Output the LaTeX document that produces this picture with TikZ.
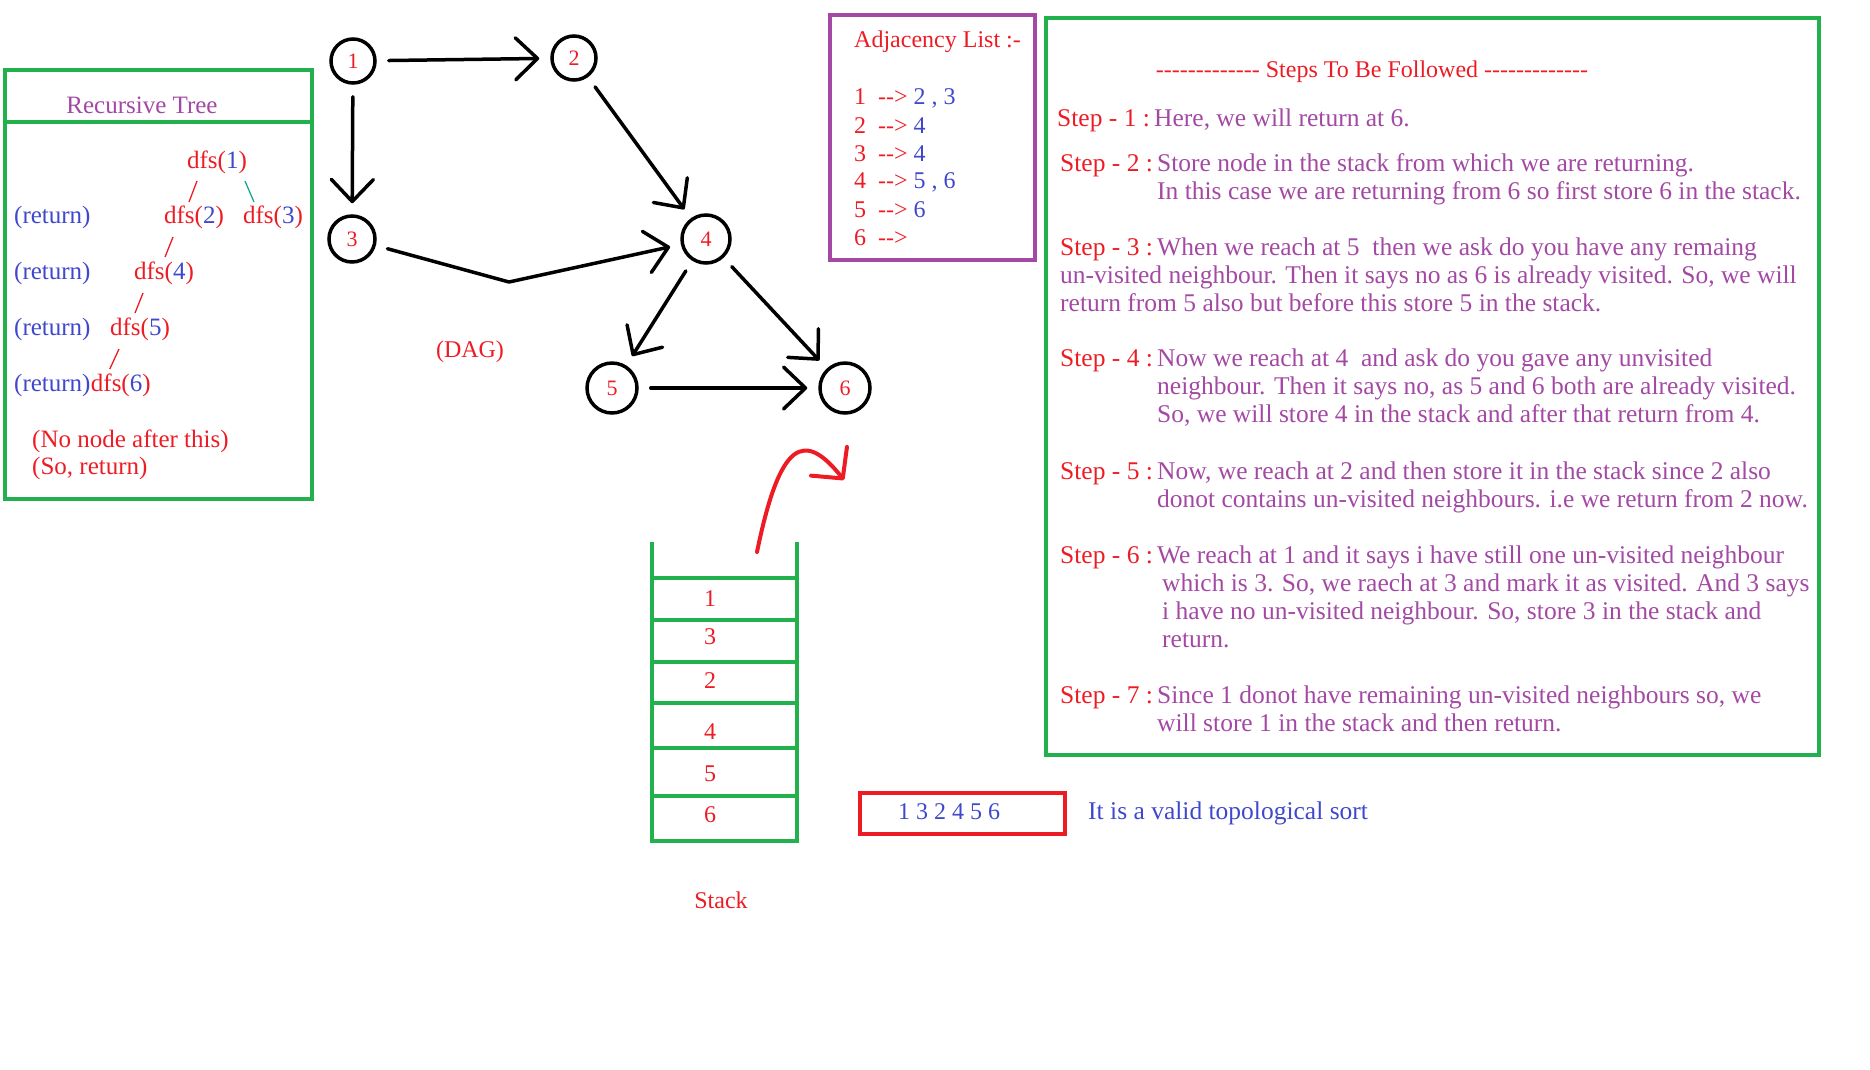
\documentclass[tikz,border=0pt]{standalone}
\usepackage{fontspec}
\setmainfont{Liberation Serif}[Ligatures=TeXOff]
\usetikzlibrary{arrows.meta,positioning}
\definecolor{rot}{HTML}{ED1C24}
\definecolor{blau}{HTML}{3F48CC}
\definecolor{lila}{HTML}{A349A4}
\definecolor{gruen}{HTML}{22B14C}
\definecolor{tuerkis}{HTML}{1BA68C}
\newcommand\dfs[1]{dfs(\textcolor{blau}{#1})}
\newcommand\stp[1]{\makebox[97pt][l]{\textcolor{rot}{Step - #1 :}}}
\tikzset{
  knoten/.style={circle,draw=black,line width=3.5pt,inner sep=0pt,text=rot,font=\fontsize{22}{26}\selectfont},
  kante/.style={-{Straight Barb[length=22pt,width=42pt,round]},line width=3.5pt,line cap=round,line join=round,shorten <=12pt,shorten >=11pt},
  rahmen/.style={draw=gruen,line width=4pt},
  stapel/.style={gruen,line width=4pt},
  strich/.style={line width=1.3pt},
  txt/.style={inner sep=0pt,font=\fontsize{24}{28}\selectfont},
  baum/.style={inner sep=0pt,font=\fontsize{25}{27}\selectfont},
  schritt/.style={inner sep=0pt,text=lila,font=\fontsize{25.5}{28}\selectfont},
  pfeilrot/.style={-{Straight Barb[length=22pt,width=46pt,round]},rot,line width=4pt,line cap=round},
}
\begin{document}
\begin{tikzpicture}[x=1pt,y=-1pt]
  \useasboundingbox (0,0) rectangle (1870,1069);
  \draw[rahmen] (5,70) rectangle (312,499);
  \draw[rahmen] (5,122) -- (312,122);
  \node[baum,text=lila] (titel) at (142,105) {Recursive Tree};
  \node[baum,text=rot] (d1) at (217,162) {\dfs{1}};
  \node[baum,text=rot] (d2) at (194,217) {\dfs{2}};
  \node[baum,text=rot] (d3) at (273,217) {\dfs{3}};
  \node[baum,text=rot] (d4) at (164,273) {\dfs{4}};
  \node[baum,text=rot] (d5) at (140,329) {\dfs{5}};
  \node[baum,text=blau,anchor=west] (r1) at (14,217) {(return)};
  \node[baum,text=blau,anchor=west] (r2) at (14,273) {(return)};
  \node[baum,text=blau,anchor=west] (r3) at (14,329) {(return)};
  \node[baum,text=blau,anchor=west] (r4) at (14,385) {(return)};
  \node[baum,text=rot,right=0pt of r4] (d6) {\dfs{6}};
  \draw[strich,rot] ([shift={(-20,19)}]d1.center) -- ([shift={(-5,-15)}]d2.center);
  \draw[strich,tuerkis] ([shift={(28,19)}]d1.center) -- ([shift={(-19,-15)}]d3.center);
  \draw[strich,rot] ([shift={(-21,20)}]d2.center) -- ([shift={(1,-16)}]d4.center);
  \draw[strich,rot] ([shift={(-21,20)}]d4.center) -- ([shift={(-5,-16)}]d5.center);
  \draw[strich,rot] ([shift={(-21,20)}]d5.center) -- ([shift={(-11,-16)}]d6.center);
  \node[baum,text=rot,anchor=west,align=left] (hinweis) at (32,455) {(No node after this)\\(So, return)};
  \node[knoten,minimum size=44pt] (n1) at (353,61) {1};
  \node[knoten,minimum size=44pt] (n2) at (574,58) {2};
  \node[knoten,minimum size=46pt] (n3) at (352,239) {3};
  \node[knoten,minimum size=48pt] (n4) at (706,239) {4};
  \node[knoten,minimum size=50pt] (n5) at (612,388) {5};
  \node[knoten,minimum size=50pt] (n6) at (845,388) {6};
  \coordinate (knick) at (509,282);
  \draw[kante] (n1) -- (n2);
  \draw[kante] (n1) -- (n3);
  \draw[kante] (n2) -- (n4);
  \draw[kante] (n3) -- (knick) -- (n4);
  \draw[kante] (n4) -- (n5);
  \draw[kante] (n4) -- (n6);
  \draw[kante] (n5) -- (n6);
  \node[txt,text=rot] (dag) at (470,352) {(DAG)};
  \draw[lila,line width=4.5pt] (830,15) rectangle (1035,260);
  \node[txt,text=rot,anchor=west] (adjtitel) at (854,42) {Adjacency List :-};
  \foreach \k/\nb [count=\i from 0] in {1/{2 , 3},2/4,3/4,4/{5 , 6},5/6,6/{}}
    \node[txt,anchor=west] (adj\k) at (854,98+28*\i) {\textcolor{rot}{\k\ \ -->} \textcolor{blau}{\nb}};
  \draw[rahmen] (1046,18) rectangle (1819,755);
  \node[txt,text=rot] (schritte) at (1372,72) {------------- Steps To Be Followed -------------};
  \node[schritt,anchor=base west] (st1) at (1057,126) {\begin{tabular}[t]{@{}l@{}l@{}}\stp{1}&Here, we will return at 6.\end{tabular}};
  \node[schritt,anchor=base west] (st2) at (1060,171) {\begin{tabular}[t]{@{}l@{}l@{}}\stp{2}&Store node in the stack from which we are returning.\\
    &In this case we are returning from 6 so first store 6 in the stack.\end{tabular}};
  \node[schritt,anchor=base west] (st3) at (1060,255) {\begin{tabular}[t]{@{}l@{}l@{}}\stp{3}&When we reach at 5\ \ then we ask do you have any remaing\\
    \multicolumn{2}{@{}l@{}}{un-visited neighbour. Then it says no as 6 is already visited. So, we will}\\
    \multicolumn{2}{@{}l@{}}{return from 5 also but before this store 5 in the stack.}\end{tabular}};
  \node[schritt,anchor=base west] (st4) at (1060,366) {\begin{tabular}[t]{@{}l@{}l@{}}\stp{4}&Now we reach at 4\ \ and ask do you gave any unvisited\\
    &neighbour. Then it says no, as 5 and 6 both are already visited.\\
    &So, we will store 4 in the stack and after that return from 4.\end{tabular}};
  \node[schritt,anchor=base west] (st5) at (1060,479) {\begin{tabular}[t]{@{}l@{}l@{}}\stp{5}&Now, we reach at 2 and then store it in the stack since 2 also\\
    &donot contains un-visited neighbours. i.e we return from 2 now.\end{tabular}};
  \node[schritt,anchor=base west] (st6) at (1060,563) {\begin{tabular}[t]{@{}l@{}l@{}}\stp{6}&We reach at 1 and it says i have still one un-visited neighbour\\
    &\hspace*{5pt}which is 3. So, we raech at 3 and mark it as visited. And 3 says\\
    &\hspace*{5pt}i have no un-visited neighbour. So, store 3 in the stack and\\
    &\hspace*{5pt}return.\end{tabular}};
  \node[schritt,anchor=base west] (st7) at (1060,703) {\begin{tabular}[t]{@{}l@{}l@{}}\stp{7}&Since 1 donot have remaining un-visited neighbours so, we\\
    &will store 1 in the stack and then return.\end{tabular}};
  \draw[stapel] (652,542) -- (652,841) -- (797,841) -- (797,542);
  \foreach \y in {578,620,662,703,748,796}{\draw[stapel] (652,\y) -- (797,\y);}
  \foreach \z/\y in {1/599,3/637,2/681,4/732,5/774,6/815}
    \node[txt,text=rot] (stack\z) at (710,\y) {\z};
  \node[txt,text=rot] (stapeltxt) at (721,900) {Stack};
  \coordinate (raus) at (757,552);
  \coordinate (ziel) at (844,480);
  \draw[pfeilrot] (raus) .. controls (780,440) and (804,430) .. (ziel);
  \node[draw=rot,line width=4pt,minimum width=205pt,minimum height=41pt] (res) at (962.5,813.5) {};
  \node[txt,text=blau] (folge) at (949,812) {1 3 2 4 5 6};
  \node[txt,text=blau,font=\fontsize{25.5}{28}\selectfont,right=21pt of res] (gueltig) {It is a valid topological sort};
\end{tikzpicture}
\end{document}
